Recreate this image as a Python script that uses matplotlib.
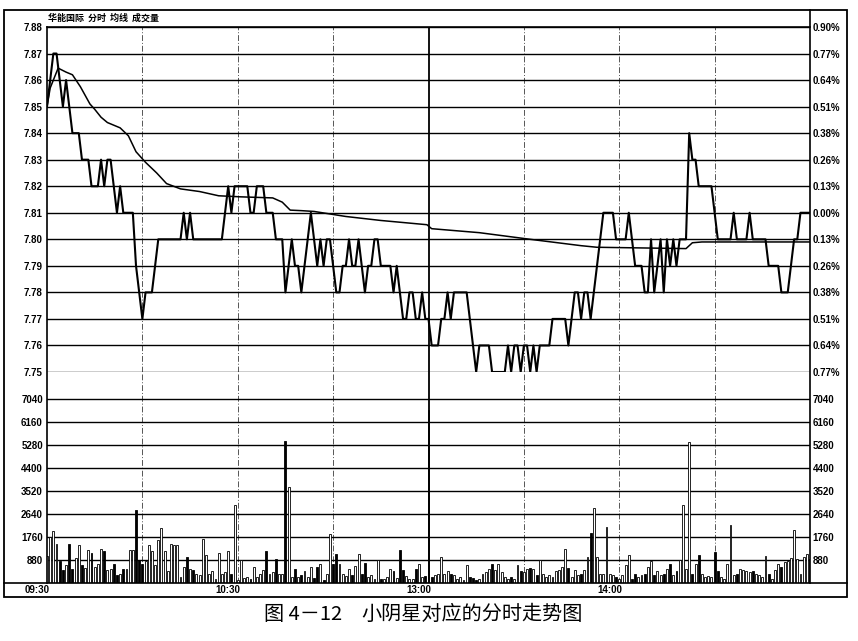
import numpy as np
import matplotlib.pyplot as plt
from matplotlib.lines import Line2D
from matplotlib.patches import Rectangle

plt.rcParams['font.family'] = ['Liberation Sans', 'Noto Sans CJK SC', 'DejaVu Sans']

# ---- data (one value per minute, 09:30 .. 15:00) ----
price = [
    7.85, 7.86, 7.87, 7.87, 7.86, 7.85, 7.86, 7.85, 7.84, 7.84,
    7.84, 7.83, 7.83, 7.83, 7.82, 7.82, 7.82, 7.83, 7.82, 7.83,
    7.83, 7.82, 7.81, 7.82, 7.81, 7.81, 7.81, 7.81, 7.79, 7.78,
    7.77, 7.78, 7.78, 7.78, 7.79, 7.80, 7.80, 7.80, 7.80, 7.80,
    7.80, 7.80, 7.80, 7.81, 7.80, 7.81, 7.80, 7.80, 7.80, 7.80,
    7.80, 7.80, 7.80, 7.80, 7.80, 7.80, 7.81, 7.82, 7.81, 7.82,
    7.82, 7.82, 7.82, 7.82, 7.81, 7.81, 7.82, 7.82, 7.82, 7.81,
    7.81, 7.81, 7.80, 7.80, 7.80, 7.78, 7.79, 7.80, 7.79, 7.79,
    7.78, 7.79, 7.80, 7.81, 7.80, 7.79, 7.80, 7.79, 7.80, 7.80,
    7.79, 7.78, 7.78, 7.79, 7.79, 7.80, 7.79, 7.79, 7.80, 7.79,
    7.78, 7.79, 7.79, 7.80, 7.80, 7.79, 7.79, 7.79, 7.79, 7.78,
    7.79, 7.78, 7.77, 7.77, 7.78, 7.78, 7.77, 7.77, 7.78, 7.77,
    7.77, 7.76, 7.76, 7.76, 7.77, 7.77, 7.78, 7.77, 7.78, 7.78,
    7.78, 7.78, 7.78, 7.77, 7.76, 7.75, 7.76, 7.76, 7.76, 7.76,
    7.75, 7.75, 7.75, 7.75, 7.75, 7.76, 7.75, 7.76, 7.76, 7.75,
    7.76, 7.76, 7.75, 7.76, 7.75, 7.76, 7.76, 7.76, 7.76, 7.77,
    7.77, 7.77, 7.77, 7.77, 7.76, 7.77, 7.78, 7.78, 7.77, 7.78,
    7.78, 7.77, 7.78, 7.79, 7.80, 7.81, 7.81, 7.81, 7.81, 7.80,
    7.80, 7.80, 7.80, 7.81, 7.80, 7.79, 7.79, 7.79, 7.78, 7.78,
    7.80, 7.78, 7.79, 7.80, 7.78, 7.80, 7.79, 7.80, 7.79, 7.80,
    7.80, 7.80, 7.84, 7.83, 7.83, 7.82, 7.82, 7.82, 7.82, 7.82,
    7.81, 7.80, 7.80, 7.80, 7.80, 7.80, 7.81, 7.80, 7.80, 7.80,
    7.80, 7.81, 7.80, 7.80, 7.80, 7.80, 7.80, 7.79, 7.79, 7.79,
    7.79, 7.78, 7.78, 7.78, 7.79, 7.80, 7.80, 7.81, 7.81, 7.81,
    7.81,
]

# average price line, read at points (minute index, price)
avg_min = [0, 1, 3.5, 6, 8, 10.5, 13.5, 15, 17, 19, 23, 25.6, 28, 31, 34.5,
           37.6, 42, 48, 54, 61, 71, 74, 76.5, 80, 84, 94, 105, 119.5, 121,
           136, 152, 168, 173, 201, 203, 206, 240]
avg_val = [7.850, 7.857, 7.8645, 7.863, 7.862, 7.8575, 7.851, 7.849, 7.846,
           7.8440, 7.842, 7.839, 7.833, 7.829, 7.825, 7.821, 7.819, 7.818,
           7.8164, 7.816, 7.8156, 7.814, 7.811, 7.8108, 7.8105, 7.8086,
           7.8071, 7.8055, 7.804, 7.8025, 7.800, 7.7976, 7.797, 7.7965,
           7.7987, 7.799, 7.799]

volume = [
    1020, 1760, 1990, 1500, 830, 480, 680, 1500, 550, 970,
    1440, 680, 590, 1280, 1150, 610, 710, 1310, 1210, 480,
    550, 710, 290, 360, 550, 550, 1250, 1250, 2780, 870,
    710, 830, 1470, 1210, 680, 1660, 2100, 1210, 450, 1500,
    1470, 1470, 230, 610, 990, 550, 480, 360, 290, 1700,
    1060, 360, 460, 170, 1150, 360, 420, 1210, 360, 2970,
    100, 870, 200, 230, 170, 610, 230, 360, 510, 1210,
    360, 420, 930, 360, 330, 5420, 3670, 230, 550, 230,
    290, 460, 230, 610, 200, 610, 740, 130, 360, 1890,
    710, 1120, 710, 360, 250, 550, 290, 640, 1100, 360,
    770, 230, 290, 170, 890, 170, 170, 230, 550, 460,
    200, 1280, 510, 250, 170, 170, 550, 740, 230, 250,
    6600, 230, 290, 360, 990, 360, 460, 360, 290, 170,
    230, 130, 680, 230, 200, 100, 170, 360, 420, 550,
    740, 510, 710, 420, 230, 170, 230, 170, 680, 460,
    420, 550, 590, 550, 290, 870, 360, 230, 290, 230,
    460, 480, 610, 1310, 590, 230, 480, 290, 360, 480,
    990, 1910, 2870, 990, 360, 360, 2140, 330, 290, 230,
    170, 290, 680, 1060, 170, 360, 230, 290, 360, 610,
    830, 290, 460, 290, 360, 550, 710, 290, 460, 870,
    3000, 550, 5390, 360, 710, 1060, 360, 230, 250, 230,
    1190, 460, 230, 170, 740, 2230, 290, 360, 550, 480,
    460, 420, 460, 360, 290, 230, 1020, 360, 170, 480,
    740, 610, 800, 830, 960, 2010, 930, 360, 990, 1120,
    930,
]

price_ticks = [7.88, 7.87, 7.86, 7.85, 7.84, 7.83, 7.82, 7.81,
               7.80, 7.79, 7.78, 7.77, 7.76, 7.75]
pct_labels = ['0.90%', '0.77%', '0.64%', '0.51%', '0.38%', '0.26%', '0.13%',
              '0.00%', '0.13%', '0.26%', '0.38%', '0.51%', '0.64%', '0.77%']
vol_ticks = [7040, 6160, 5280, 4400, 3520, 2640, 1760, 880]
time_pos = [0, 60, 120, 180]
time_labels = ['09:30', '10:30', '13:00', '14:00']
title_text = '华能国际  分时  均线  成交量'
caption_num = '图 4－12'
caption_txt = '小阴星对应的分时走势图'

# ---- layout in pixels ----
W, H = 858, 641
fig = plt.figure(figsize=(W / 100, H / 100), dpi=100)
fig.patch.set_facecolor('white')


def box(x0, y0, x1, y1):
    return [x0 / W, 1 - y1 / H, (x1 - x0) / W, (y1 - y0) / H]


ax_p = fig.add_axes(box(47, 27, 810, 372))
ax_v = fig.add_axes(box(47, 372, 810, 583))

tick_font = dict(family=['Liberation Sans', 'DejaVu Sans'], weight='bold', size=7)
minutes = np.arange(len(price))

for ax in (ax_p, ax_v):
    ax.set_xlim(0, 240)
    ax.set_xticks([])
    for s in ax.spines.values():
        s.set_visible(False)
    ax.tick_params(axis='y', length=0, pad=3)
    for m in [30, 60, 90, 150, 180, 210]:
        ax.axvline(m, color='#555555', lw=0.7, ls=(0, (6, 2, 1, 2)), zorder=1)
    ax.axvline(120, color='black', lw=1.3, zorder=3)

# price panel
ax_p.set_ylim(7.75, 7.88)
for p in price_ticks:
    ax_p.axhline(p, color='black', lw=1.0, zorder=1)
ax_p.plot(avg_min, avg_val, color='black', lw=1.1, zorder=4)
ax_p.plot(minutes, price, color='black', lw=1.5, zorder=5)
ax_p.set_yticks(price_ticks)
ax_p.set_yticklabels(['%.2f' % p for p in price_ticks], fontdict=tick_font)
axr = ax_p.twinx()
axr.set_ylim(7.75, 7.88)
axr.set_yticks(price_ticks)
axr.set_yticklabels(pct_labels, fontdict=tick_font)
axr.tick_params(axis='y', length=0, pad=2)
for s in axr.spines.values():
    s.set_visible(False)

# volume panel
ax_v.set_ylim(0, 8073)
for v in vol_ticks:
    ax_v.axhline(v, color='black', lw=1.0, zorder=1)
prev = [price[0]] + price[:-1]
face = ['white' if p >= q else 'black' for p, q in zip(price, prev)]
ax_v.bar(minutes, volume, width=0.6, color=face, edgecolor='black',
         linewidth=0.6, zorder=2)
ax_v.set_yticks(vol_ticks)
ax_v.set_yticklabels([str(v) for v in vol_ticks], fontdict=tick_font)
axvr = ax_v.twinx()
axvr.set_ylim(0, 8073)
axvr.set_yticks(vol_ticks)
axvr.set_yticklabels([str(v) for v in vol_ticks], fontdict=tick_font)
axvr.tick_params(axis='y', length=0, pad=2)
for s in axvr.spines.values():
    s.set_visible(False)

for pos, lab in zip(time_pos, time_labels):
    ax_v.text(pos + 0.8, -0.035, lab, transform=ax_v.get_xaxis_transform(),
              ha='right', va='center', fontdict=tick_font)

# frame lines (pixel coordinates on the figure)
def hline(y, x0, x1, lw=1.2):
    fig.add_artist(Line2D([x0 / W, x1 / W], [1 - y / H, 1 - y / H],
                          color='black', lw=lw))


def vline(x, y0, y1, lw=1.2):
    fig.add_artist(Line2D([x / W, x / W], [1 - y0 / H, 1 - y1 / H],
                          color='black', lw=lw))


fig.add_artist(Rectangle((4 / W, 1 - 597 / H), 843 / W, 587 / H,
                         fill=False, edgecolor='black', lw=1.3))
hline(27, 47, 810)
hline(583, 4, 847)
vline(47, 27, 583)
vline(810, 10, 583)

fig.text(48 / W, 1 - 18 / H, title_text, ha='left', va='center',
         family=['Noto Sans CJK SC', 'DejaVu Sans'], weight='bold', size=6.5)
cap_font = dict(family=['Noto Sans CJK SC', 'DejaVu Sans'], size=14.5)
fig.text(264 / W, 1 - 614 / H, caption_num, ha='left', va='center', **cap_font)
fig.text(361 / W, 1 - 614 / H, caption_txt, ha='left', va='center', **cap_font)

fig.savefig('out.png', dpi=100, facecolor='white')
